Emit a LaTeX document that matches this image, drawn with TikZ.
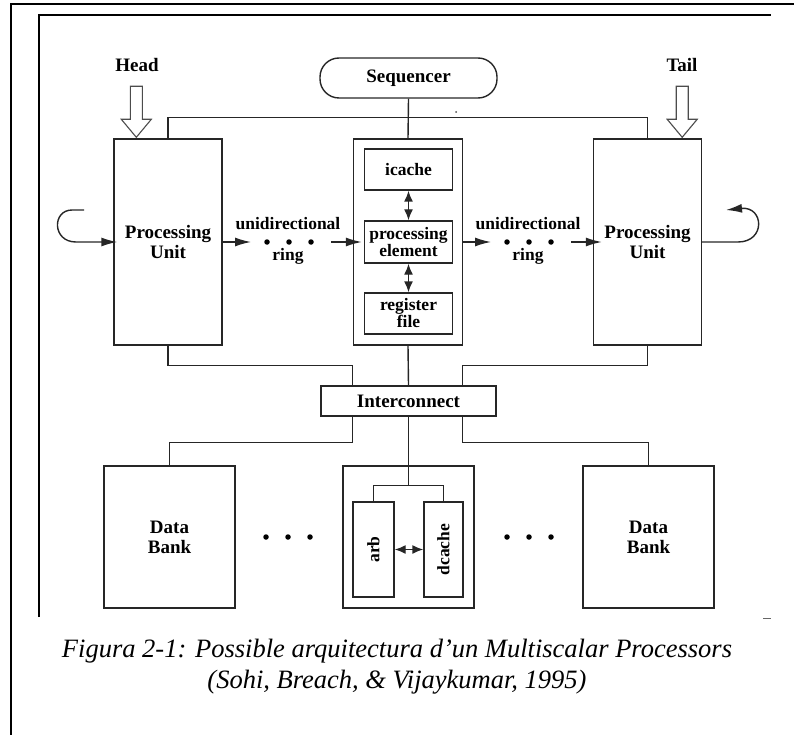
\documentclass[tikz,border=0pt]{standalone}
\usepackage{fontspec}
\setmainfont{Liberation Serif}
\usetikzlibrary{arrows.meta,calc}
\newcommand{\diagfont}{\fontsize{19}{20}\selectfont\bfseries}
\newcommand{\ringfont}{\fontsize{17.5}{18}\selectfont\bfseries}
\newcommand{\smallfont}{\fontsize{17.5}{17}\selectfont\bfseries}
\newcommand{\capfont}{\fontsize{26.5}{31}\selectfont\itshape}
\begin{document}
\begin{tikzpicture}[x=1pt,y=-1pt,
  ln/.style={draw=black!85, line width=1.4pt},
  box/.style={ln, rectangle, inner sep=0pt, align=center, font=\diagfont},
  sub/.style={box, font=\smallfont, minimum width=88pt, minimum height=41pt},
  pu/.style={box, minimum width=108pt, minimum height=206pt},
  bank/.style={box, minimum width=131pt, minimum height=142pt},
  lbl/.style={inner sep=0pt, align=center, font=\diagfont},
  ringlbl/.style={inner sep=0pt, align=center, font=\ringfont},
  dotn/.style={circle, fill=black, inner sep=0pt, minimum size=5.5pt},
  arr/.style={ln, -{Latex[length=16pt,width=9pt]}},
  darr/.style={ln, {Latex[length=11pt,width=9pt]}-{Latex[length=11pt,width=9pt]}},
  hollow/.style={draw=black!70, line width=1.1pt, fill=white}]

\useasboundingbox (0,0) rectangle (794,735);

% page frame
\draw[line width=2pt] (11,735) -- (11,4.5) -- (794,4.5);
\draw[line width=1.6pt] (39,617) -- (39,15) -- (771,15);
\draw[line width=1pt, black!60] (763,618) -- (771,618);

% blocks
\node[pu] (pul) at (168,242) {Processing\\Unit};
\node[pu] (pur) at (647.5,242) {Processing\\Unit};
\node[box, minimum width=109pt, minimum height=206pt] (tile) at (408,242) {};
\node[sub] (icache) at (408.5,169.5) {icache};
\node[sub, minimum height=42pt] (pel) at (408.5,242) {processing\\element};
\node[sub] (rf) at (408.5,313.5) {register\\file};
\node[box, minimum width=177pt, minimum height=40pt, rounded corners=19pt] (seq) at (408.5,78) {Sequencer};
\node[box, minimum width=175pt, minimum height=30pt] (ic) at (408.5,401) {Interconnect};
\node[bank] (dbl) at (169.5,537) {Data\\Bank};
\node[bank] (mem) at (408.5,537) {};
\node[bank] (dbr) at (648.5,537) {Data\\Bank};
\node[box, font=\smallfont, minimum width=41pt, minimum height=95pt] (arb) at (373.5,549.5) {\rotatebox{90}{arb}};
\node[box, font=\smallfont, minimum width=39pt, minimum height=95pt] (dc) at (443.5,549.5) {\rotatebox{90}{dcache}};

% labels
\node[lbl] (head) at (137,65) {Head};
\node[lbl] (tail) at (682,65) {Tail};
\node[ringlbl] (ul) at (288,224) {unidirectional};
\node[ringlbl] (rl) at (288,256) {ring};
\node[ringlbl] (ur) at (528,224) {unidirectional};
\node[ringlbl] (rr) at (528,256) {ring};

% hollow entry arrows
\coordinate (hp) at ($(pul.north west)+(23,0)$);
\coordinate (tp) at ($(pur.north east)+(-20,0)$);
\foreach \p in {hp,tp}
  \draw[hollow] ($(\p)+(0,-1)$) -- ++(-15,-18) -- ++(9,0) -- ++(0,-33) -- ++(12,0) -- ++(0,33) -- ++(9,0) -- cycle;

% top bus and sequencer
\draw[ln] (pul.north) -- ++(0,-21) -| (pur.north);
\draw[ln] (seq.south) -- (tile.north);
\fill[black!70] (456,112) circle (1pt);

% internal links of the tile
\draw[darr] (icache.south) -- (pel.north);
\draw[darr] (pel.south) -- (rf.north);

% unidirectional rings
\node[dotn] (a1) at (267,242) {};
\node[dotn] (a2) at (289,242) {};
\node[dotn] (a3) at (311,242) {};
\node[dotn] (b1) at (507,242) {};
\node[dotn] (b2) at (529,242) {};
\node[dotn] (b3) at (551,242) {};
\draw[arr] (pul.east) -- ($(a1)+(-16,0)$);
\draw[arr] ($(a3)+(20,0)$) -- ($(tile.west)+(9,0)$);
\draw[arr] (tile.east) -- ($(b1)+(-16,0)$);
\draw[arr] ($(b3)+(20,0)$) -- ($(pur.west)+(9,0)$);

% wrap-around loops
\coordinate (ls) at (84,210);
\draw[arr] (ls) -- (72,210) .. controls (52,210) and (52,242) .. (76,242) -- ($(pul.west)+(4,0)$);
\coordinate (re) at (726,210);
\draw[arr] (pur.east) -- (738,242) .. controls (766,242) and (764,206) .. (re);

% interconnect wiring
\draw[ln] (pul.south) -- ++(0,20) -| ($(ic.north west)+(32,0)$);
\draw[ln] (pur.south) -- ++(0,20) -| ($(ic.north east)+(-34,0)$);
\draw[ln] (tile.south) -- (ic.north);
\draw[ln] ($(ic.south west)+(32,0)$) -- ++(0,26) -| (dbl.north);
\draw[ln] ($(ic.south east)+(-34,0)$) -- ++(0,26) -| (dbr.north);
\draw[ln] (ic.south) -- (mem.north);
\coordinate (mj) at ($(mem.north)+(0,20)$);
\draw[ln] (mem.north) -- (mj);
\draw[ln] (arb.north) |- (mj) -| (dc.north);
\draw[darr] (arb.east) -- (dc.west);

% ellipses between banks
\foreach \x in {266,288,310} \node[dotn] (l\x) at (\x,537) {};
\foreach \x in {507,529,551} \node[dotn] (r\x) at (\x,537) {};

% caption
\node[inner sep=0pt, align=center, font=\capfont] (cap) at (397,667)
  {Figura 2-1: Possible arquitectura d’un Multiscalar Processors\\(Sohi, Breach, \& Vijaykumar, 1995)};
\end{tikzpicture}
\end{document}
